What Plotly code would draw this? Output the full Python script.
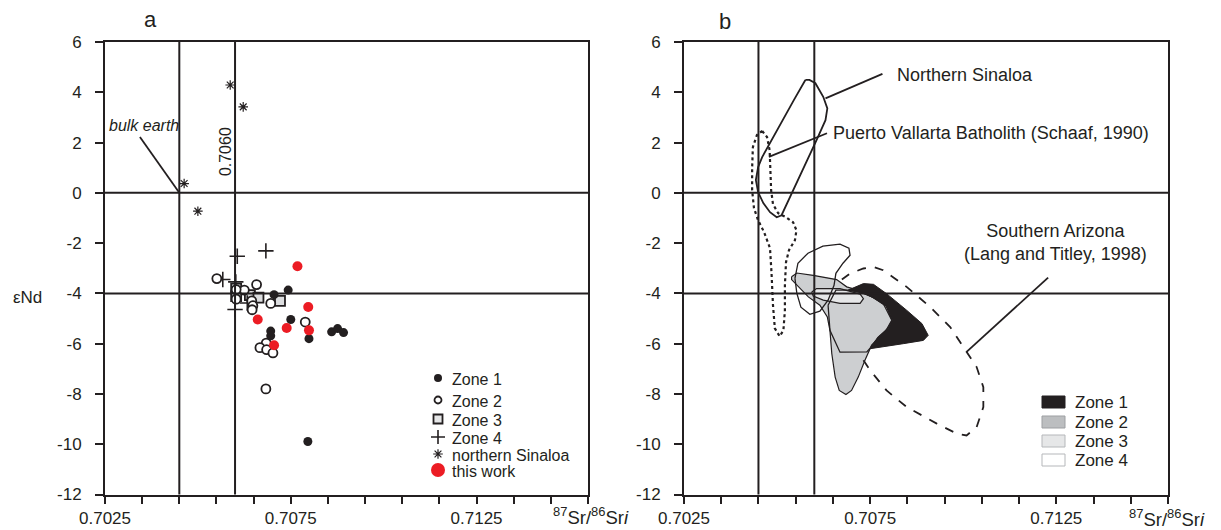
import plotly.graph_objects as go

W, H = 1221, 530
INK = "#231f20"
FONT = "Liberation Sans, Arial, sans-serif"

# ---------------- DATA ----------------
# Axis ticks
X_MAJOR = [0.7025, 0.7075, 0.7125]
X_LABELS = ["0.7025", "0.7075", "0.7125"]
X_MINOR_STEP = 0.001
Y_TICKS = [6, 4, 2, 0, -2, -4, -6, -8, -10, -12]
Y_LABELS = ["6", "4", "2", "0", "-2", "-4", "-6", "-8", "-10", "-12"]

# Reference lines
SR_LINES = [0.7045, 0.7060]      # bulk earth, 0.7060
ND_LINES = [0, -4]

# Panel a: 87Sr/86Sr_i vs eNd
zone1_sr = [0.70705, 0.70743, 0.70750, 0.70696, 0.70696, 0.70799, 0.70860, 0.70876, 0.70892, 0.70796]
zone1_nd = [-4.05, -3.87, -5.04, -5.50, -5.69, -5.80, -5.53, -5.40, -5.56, -9.89]
zone2_sr = [0.70551, 0.70658, 0.70625, 0.70603, 0.70603, 0.70645, 0.70648, 0.70646,
            0.70696, 0.70789, 0.70684, 0.70667, 0.70685, 0.70702, 0.70683]
zone2_nd = [-3.41, -3.65, -3.87, -3.85, -4.23, -4.30, -4.49, -4.65,
            -4.40, -5.14, -5.98, -6.16, -6.24, -6.37, -7.80]
zone3_sr = [0.70603, 0.70603, 0.70640, 0.70663, 0.70721]
zone3_nd = [-3.81, -4.11, -4.07, -4.17, -4.30]
zone4_sr = [0.70606, 0.70683, 0.70567, 0.70602, 0.70633, 0.70600]
zone4_nd = [-2.52, -2.31, -3.45, -3.54, -4.38, -4.64]
sinaloa_sr = [0.70587, 0.70622, 0.70463, 0.70500]
sinaloa_nd = [4.29, 3.42, 0.37, -0.73]
work_sr = [0.70768, 0.70797, 0.70661, 0.70739, 0.70799, 0.70705]
work_nd = [-2.92, -4.54, -5.04, -5.38, -5.47, -6.06]

# Panel b: outlined fields
ns_sr = [0.70576, 0.70587, 0.70603, 0.70624, 0.70635, 0.70630, 0.70606, 0.70575, 0.70544,
         0.70526, 0.70512, 0.70499, 0.70481, 0.70463, 0.70449, 0.70443, 0.70449, 0.70460,
         0.70481, 0.70513, 0.70545]
ns_nd = [4.49, 4.49, 4.36, 3.82, 3.36, 2.89, 2.10, 1.10, 0.11,
         -0.42, -0.89, -0.97, -0.77, -0.41, 0.03, 0.51, 1.02, 1.42,
         1.98, 2.89, 3.69]
pv_sr = [0.70460, 0.70473, 0.70480, 0.70482, 0.70484, 0.70489, 0.70503, 0.70524, 0.70543,
         0.70552, 0.70548, 0.70532, 0.70524, 0.70521, 0.70521, 0.70517, 0.70507, 0.70494,
         0.70489, 0.70485, 0.70481, 0.70465, 0.70449, 0.70438, 0.70433, 0.70433, 0.70435, 0.70446]
pv_nd = [2.46, 2.22, 1.70, 0.90, 0.11, -0.45, -0.81, -0.97, -1.17,
         -1.49, -1.88, -2.28, -2.76, -3.68, -4.67, -5.47, -5.71, -5.39,
         -4.47, -3.16, -2.20, -1.56, -1.09, -0.61, 0.11, 0.98, 1.82, 2.30]
z2_sr = [0.70539, 0.70553, 0.70597, 0.70660, 0.70687, 0.70732, 0.70785, 0.70808, 0.70790,
         0.70754, 0.70736, 0.70718, 0.70700, 0.70685, 0.70667, 0.70656, 0.70647, 0.70642,
         0.70635, 0.70615, 0.70584, 0.70553, 0.70539]
z2_nd = [-3.34, -3.19, -3.28, -3.45, -3.74, -3.94, -4.40, -5.07, -5.54,
         -6.06, -6.66, -7.33, -7.86, -8.02, -7.86, -7.33, -6.40, -5.47,
         -4.94, -4.47, -4.14, -3.68, -3.45]
z1_sr = [0.70691, 0.70732, 0.70759, 0.70794, 0.70848, 0.70889, 0.70906, 0.70893, 0.70839,
         0.70785, 0.70750, 0.70772, 0.70799, 0.70810, 0.70794, 0.70759, 0.70727]
z1_nd = [-3.87, -3.61, -3.64, -4.01, -4.67, -5.20, -5.67, -5.87, -6.00,
         -6.13, -6.20, -5.73, -5.40, -5.07, -4.51, -4.17, -3.98]
z3_sr = [0.70593, 0.70606, 0.70669, 0.70723, 0.70732, 0.70723, 0.70669, 0.70624, 0.70597]
z3_nd = [-3.94, -3.81, -3.81, -4.03, -4.21, -4.40, -4.40, -4.27, -4.11]
z4a_sr = [0.70548, 0.70556, 0.70583, 0.70623, 0.70669, 0.70693, 0.70696, 0.70677, 0.70658,
          0.70653, 0.70637, 0.70615, 0.70588, 0.70564, 0.70553]
z4a_nd = [-3.40, -2.80, -2.40, -2.12, -2.04, -2.20, -2.48, -2.80, -3.20,
          -3.68, -4.27, -4.71, -4.83, -4.55, -3.99]
z4b_sr = [0.70637, 0.70642, 0.70669, 0.70741, 0.70750, 0.70771, 0.70798, 0.70809, 0.70793,
          0.70758, 0.70728, 0.70690, 0.70658]
z4b_nd = [-4.47, -5.47, -6.34, -6.33, -6.18, -5.75, -5.39, -5.07, -4.51,
          -4.16, -3.95, -3.87, -3.87]
az_sr = [0.70674, 0.70696, 0.70732, 0.70759, 0.70785, 0.70848, 0.70911, 0.70965, 0.71000,
         0.71036, 0.71054, 0.71054, 0.71036, 0.71009, 0.70983, 0.70929, 0.70848, 0.70794,
         0.70750, 0.70732]
az_nd = [-3.45, -3.21, -3.01, -2.95, -3.08, -3.74, -4.54, -5.34, -6.13,
         -6.93, -7.73, -8.52, -9.32, -9.65, -9.58, -9.18, -8.52, -7.86,
         -7.06, -6.66]

LEGEND_A = ["Zone 1", "Zone 2", "Zone 3", "Zone 4", "northern Sinaloa", "this work"]
LEGEND_B = ["Zone 1", "Zone 2", "Zone 3", "Zone 4"]

# ---------------- FIGURE ----------------
def pp(x, y):
    """pixel -> paper coordinates"""
    return x / W, 1 - y / H

fig = go.Figure()

# ---- panel a markers ----
fig.add_trace(go.Scatter(x=zone3_sr, y=zone3_nd, mode="markers", xaxis="x", yaxis="y",
                         marker=dict(symbol="square", size=10, color="#dcdddf",
                                     line=dict(color=INK, width=1.8))))
fig.add_trace(go.Scatter(x=zone4_sr, y=zone4_nd, mode="markers", xaxis="x", yaxis="y",
                         marker=dict(symbol="cross-thin-open", size=11, color=INK,
                                     line=dict(color=INK, width=1.6))))
fig.add_trace(go.Scatter(x=zone2_sr, y=zone2_nd, mode="markers", xaxis="x", yaxis="y",
                         marker=dict(symbol="circle", size=9, color="white",
                                     line=dict(color=INK, width=1.8))))
fig.add_trace(go.Scatter(x=zone1_sr, y=zone1_nd, mode="markers", xaxis="x", yaxis="y",
                         marker=dict(symbol="circle", size=9, color=INK, line=dict(width=0))))
fig.add_trace(go.Scatter(x=sinaloa_sr, y=sinaloa_nd, mode="markers", xaxis="x", yaxis="y",
                         marker=dict(symbol="asterisk-open", size=8, color=INK,
                                     line=dict(color=INK, width=1.2))))
fig.add_trace(go.Scatter(x=work_sr, y=work_nd, mode="markers", xaxis="x", yaxis="y",
                         marker=dict(symbol="circle", size=10, color="#ec1c24", line=dict(width=0))))

# ---- panel b fields ----
def closed(a):
    return list(a) + [a[0]]

fig.add_trace(go.Scatter(x=closed(z2_sr), y=closed(z2_nd), mode="lines", fill="toself",
                         fillcolor="#cdcfd1", line=dict(color=INK, width=1.2),
                         xaxis="x2", yaxis="y2"))
fig.add_trace(go.Scatter(x=closed(z1_sr), y=closed(z1_nd), mode="lines", fill="toself",
                         fillcolor=INK, line=dict(color=INK, width=1),
                         xaxis="x2", yaxis="y2"))
fig.add_trace(go.Scatter(x=closed(z3_sr), y=closed(z3_nd), mode="lines", fill="toself",
                         fillcolor="#e6e7e8", line=dict(color=INK, width=1.2),
                         xaxis="x2", yaxis="y2"))
fig.add_trace(go.Scatter(x=closed(z4a_sr), y=closed(z4a_nd), mode="lines",
                         line=dict(color=INK, width=1.3), xaxis="x2", yaxis="y2"))
fig.add_trace(go.Scatter(x=closed(z4b_sr), y=closed(z4b_nd), mode="lines",
                         line=dict(color=INK, width=1.3), xaxis="x2", yaxis="y2"))
fig.add_trace(go.Scatter(x=az_sr, y=az_nd, mode="lines",
                         line=dict(color=INK, width=1.8, dash="dash"), xaxis="x2", yaxis="y2"))
fig.add_trace(go.Scatter(x=closed(ns_sr), y=closed(ns_nd), mode="lines",
                         line=dict(color=INK, width=1.8), xaxis="x2", yaxis="y2"))
fig.add_trace(go.Scatter(x=closed(pv_sr), y=closed(pv_nd), mode="lines",
                         line=dict(color=INK, width=2.2, dash="dot"), xaxis="x2", yaxis="y2"))

# ---- panel a legend symbols (pixel overlay axis) ----
LEG_A_X = 438
LEG_A_Y = [378, 400, 419, 437, 454, 470]
leg_styles = [
    dict(symbol="circle", size=8, color=INK, line=dict(width=0)),
    dict(symbol="circle", size=7, color="white", line=dict(color=INK, width=1.8)),
    dict(symbol="square", size=9, color="#e6e7e8", line=dict(color=INK, width=1.8)),
    dict(symbol="cross-thin-open", size=10, color=INK, line=dict(color=INK, width=1.6)),
    dict(symbol="asterisk-open", size=8, color=INK, line=dict(color=INK, width=1.2)),
    dict(symbol="circle", size=14, color="#ec1c24", line=dict(width=0)),
]
for yy, st in zip(LEG_A_Y, leg_styles):
    fig.add_trace(go.Scatter(x=[LEG_A_X], y=[yy], mode="markers", marker=st,
                             xaxis="x3", yaxis="y3"))

axis_common = dict(showline=True, linewidth=2, linecolor=INK, mirror=True,
                   showgrid=False, zeroline=False, ticks="outside", tickcolor=INK,
                   tickwidth=1.6, automargin=False)
xcommon = dict(axis_common, range=[0.7025, 0.7155], tickmode="array",
               tickvals=X_MAJOR, ticktext=X_LABELS, ticklen=7, ticklabelstandoff=0,
               minor=dict(tick0=X_MAJOR[0], dtick=X_MINOR_STEP, ticks="outside",
                          ticklen=7, tickwidth=1.6, tickcolor=INK, showgrid=False),
               tickfont=dict(size=17, color=INK, family=FONT))
ycommon = dict(axis_common, range=[-12, 6], tickmode="array",
               tickvals=Y_TICKS, ticktext=Y_LABELS, ticklen=8, ticklabelstandoff=10,
               tickfont=dict(size=17, color=INK, family=FONT))

ydom = [1 - 494.5 / H, 1 - 42 / H]
fig.update_layout(
    width=W, height=H, autosize=False,
    margin=dict(l=0, r=0, t=0, b=0, pad=0, autoexpand=False),
    paper_bgcolor="white", plot_bgcolor="rgba(0,0,0,0)",
    showlegend=False,
    font=dict(family=FONT, color=INK, size=16),
    xaxis=dict(xcommon, domain=[105 / W, 588 / W], anchor="y"),
    yaxis=dict(ycommon, domain=ydom, anchor="x"),
    xaxis2=dict(xcommon, domain=[684 / W, 1168 / W], anchor="y2"),
    yaxis2=dict(ycommon, domain=ydom, anchor="x2"),
    xaxis3=dict(domain=[0, 1], range=[0, W], visible=False, anchor="y3", fixedrange=True),
    yaxis3=dict(domain=[0, 1], range=[H, 0], visible=False, anchor="x3", fixedrange=True),
)

shapes = []
for xa, ya in (("x", "y"), ("x2", "y2")):
    for v in SR_LINES:
        shapes.append(dict(type="line", xref=xa, yref=ya + " domain", x0=v, x1=v, y0=0, y1=1,
                           line=dict(color=INK, width=2)))
    for h in ND_LINES:
        shapes.append(dict(type="line", xref=xa + " domain", yref=ya, x0=0, x1=1, y0=h, y1=h,
                           line=dict(color=INK, width=2)))

# leader lines
shapes.append(dict(type="line", xref="x", yref="y", x0=0.70344, y0=2.22, x1=SR_LINES[0], y1=0,
                   line=dict(color=INK, width=1.8)))
shapes.append(dict(type="line", xref="x2", yref="y2", x0=0.70630, y0=3.76, x1=0.70783, y1=4.73,
                   line=dict(color=INK, width=1.8)))
shapes.append(dict(type="line", xref="x2", yref="y2", x0=0.70478, y0=1.43, x1=0.70634, y1=2.37,
                   line=dict(color=INK, width=1.8)))
shapes.append(dict(type="line", xref="x2", yref="y2", x0=0.71009, y0=-6.33, x1=0.71228, y1=-3.37,
                   line=dict(color=INK, width=1.8)))

# panel b legend swatches
LEG_B_Y = [402, 422, 441, 460]
swatch_fill = [INK, "#bcbec0", "#e6e7e8", "white"]
swatch_line = [INK, "#9d9fa2", "#b5b7ba", "#b5b7ba"]
for yy, fc, lc in zip(LEG_B_Y, swatch_fill, swatch_line):
    x0, y0 = pp(1042, yy - 6)
    x1, y1 = pp(1065, yy + 6)
    shapes.append(dict(type="rect", xref="paper", yref="paper", x0=x0, x1=x1, y0=y1, y1=y0,
                       fillcolor=fc, line=dict(color=lc, width=1)))

fig.update_layout(shapes=shapes)

ann = []
def add_px(text, x, y, size=16, xanchor="center", yanchor="middle", **kw):
    px_, py_ = pp(x, y)
    ann.append(dict(text=text, x=px_, y=py_, xref="paper", yref="paper", showarrow=False,
                    xanchor=xanchor, yanchor=yanchor,
                    font=dict(size=size, color=INK, family=FONT), **kw))

add_px("a", 150, 20, size=22)
add_px("b", 725, 22, size=22)
add_px("εNd", 27, 297, size=17)
sr_label = "<sup>87</sup>Sr/<sup>86</sup>Sr<i>i</i>"
add_px(sr_label, 551, 516, size=18.5, xanchor="left")
add_px(sr_label, 1127, 518, size=18.5, xanchor="left")
for t, yy in zip(LEGEND_A, LEG_A_Y):
    add_px(t, 450, yy + 1, size=16, xanchor="left")
for t, yy in zip(LEGEND_B, LEG_B_Y):
    add_px(t, 1073, yy, size=17, xanchor="left")

def add_data(text, x, y, xr, yr, size=16, xanchor="center", **kw):
    ann.append(dict(text=text, x=x, y=y, xref=xr, yref=yr, showarrow=False,
                    xanchor=xanchor, yanchor="middle",
                    font=dict(size=size, color=INK, family=FONT), **kw))

add_data("<i>bulk earth</i>", 0.70356, 2.66, "x", "y", size=16)
add_data("0.7060", 0.70573, 1.62, "x", "y", size=16, textangle=-90)
add_data("Northern Sinaloa", 0.70817, 4.69, "x2", "y2", size=18, xanchor="left")
add_data("Puerto Vallarta Batholith (Schaaf, 1990)", 0.70645, 2.38, "x2", "y2", size=18,
         xanchor="left")
add_data("Southern Arizona<br>(Lang and Titley, 1998)", 0.71249, -1.98, "x2", "y2", size=18,
         align="center")

fig.update_layout(annotations=ann)
fig.write_html(
    "out.html",
    config={"displayModeBar": False},
    post_script="document.body.style.margin='0';document.body.style.padding='0';"
                "document.documentElement.style.overflow='hidden';",
)
